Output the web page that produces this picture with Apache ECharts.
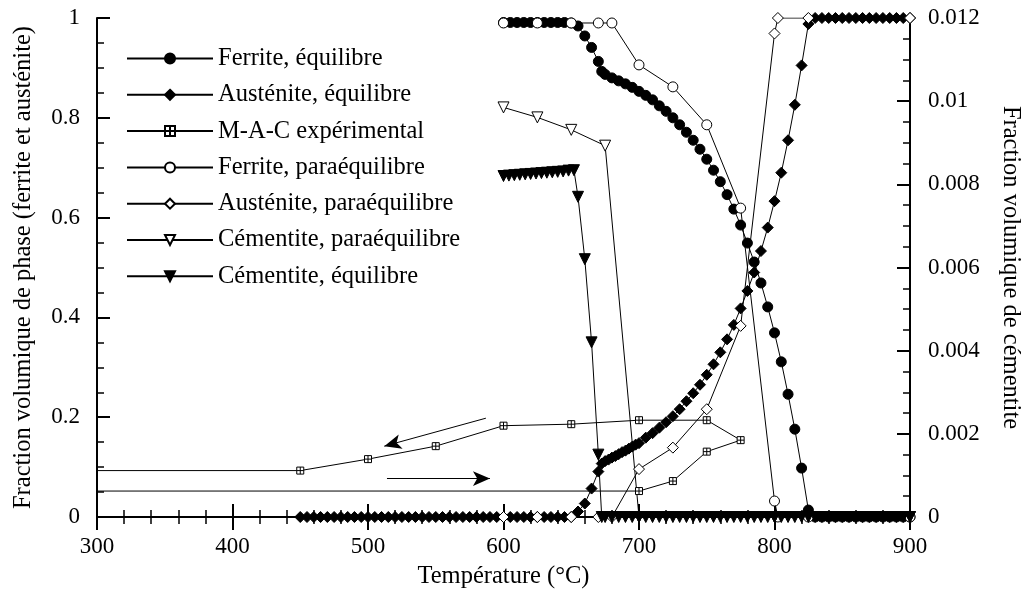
<!DOCTYPE html>
<html><head><meta charset="utf-8">
<script src="https://cdn.jsdelivr.net/npm/echarts@6/dist/echarts.min.js"></script>
<style>html,body{margin:0;padding:0;background:#fff}#c{width:1026px;height:589px}</style>
</head><body><div id="c"></div>
<script>
const FONT = 'Liberation Serif';

// ---- Data ----
const seriesNames = ['Ferrite, équilibre','Austénite, équilibre','M-A-C expérimental','Ferrite, paraéquilibre','Austénite, paraéquilibre','Cémentite, paraéquilibre','Cémentite, équilibre'];

const ferriteEqT = [600,605,610,615,620,625,630,635,640,645,650,655,660,665,670,672.5,675,680,685,690,695,700,705,710,715,720,725,730,735,740,745,750,755,760,765,770,775,780,785,790,795,800,805,810,815,820,825,830,835,840,845,850,855,860,865,870,875,880,885,890,895,900];
const ferriteEqV = [0.991,0.991,0.991,0.991,0.991,0.991,0.991,0.991,0.991,0.991,0.990,0.984,0.964,0.941,0.913,0.893,0.887,0.880,0.874,0.868,0.861,0.853,0.845,0.836,0.824,0.813,0.800,0.786,0.771,0.755,0.737,0.717,0.695,0.672,0.646,0.617,0.585,0.549,0.511,0.469,0.421,0.369,0.311,0.246,0.176,0.098,0.014,0,0,0,0,0,0,0,0,0,0,0,0,0,0,0];

const austEqT = [450,455,460,465,470,475,480,485,490,495,500,505,510,515,520,525,530,535,540,545,550,555,560,565,570,575,580,585,590,595,600,605,610,615,620,625,630,635,640,645,650,655,660,665,670,672.5,675,677.5,680,682.5,685,687.5,690,692.5,695,697.5,700,705,710,715,720,725,730,735,740,745,750,755,760,765,770,775,780,785,790,795,800,805,810,815,820,825,830,835,840,845,850,855,860,865,870,875,880,885,890,895,900];
const austEqV = [0,0,0,0,0,0,0,0,0,0,0,0,0,0,0,0,0,0,0,0,0,0,0,0,0,0,0,0,0,0,0,0,0,0,0,0,0,0,0,0,0,0.011,0.027,0.057,0.091,0.107,0.112,0.115,0.119,0.122,0.126,0.130,0.133,0.137,0.141,0.145,0.148,0.159,0.168,0.179,0.190,0.202,0.216,0.232,0.248,0.265,0.285,0.306,0.330,0.356,0.385,0.418,0.453,0.490,0.533,0.580,0.633,0.690,0.755,0.826,0.905,0.988,1,1,1,1,1,1,1,1,1,1,1,1,1,1,1];

const macT = [300,700,725,750,775,750,700,650,600,550,500,450,300];
const macV = [0.052,0.052,0.072,0.131,0.154,0.194,0.194,0.186,0.183,0.142,0.116,0.093,0.093];

const ferriteParaT = [600,625,650,670,680,700,725,750,775,800,802.5,825,900];
const ferriteParaV = [0.990,0.990,0.990,0.990,0.990,0.906,0.862,0.786,0.619,0.032,0,0,0];

const austParaT = [600,625,650,670,680,700,725,750,775,800,802.5,825,900];
const austParaV = [0,0,0,0,0,0.096,0.139,0.216,0.383,0.969,1,1,1];

const cemParaT = [600,625,650,675,700,800,900];
const cemParaV = [0.00985,0.00961,0.00931,0.00893,0,0,0];

const cemEqT = [600,604,608,612,616,620,624,628,632,636,640,644,648,652,655,660,665,670,672.5,675,680,685,690,695,700,705,710,715,720,725,730,735,740,745,750,755,760,765,770,775,780,785,790,795,800,805,810,815,820,825,830,835,840,845,850,855,860,865,870,875,880,885,890,895,900];
const cemEqV = [0.00820,0.00821,0.00822,0.00823,0.00824,0.00825,0.00826,0.00827,0.00828,0.00829,0.00830,0.00831,0.00833,0.00834,0.0077,0.0062,0.0042,0.0015,0,0,0,0,0,0,0,0,0,0,0,0,0,0,0,0,0,0,0,0,0,0,0,0,0,0,0,0,0,0,0,0,0,0,0,0,0,0,0,0,0,0,0,0,0,0,0];

// annotation arrows (cooling / heating direction), in data coordinates
const arrowCooling = [[587,0.198],[512,0.142]];
const arrowHeating = [[514,0.077],[590,0.077]];

// ---- Build ----
const zip = (t, v) => t.map((x, i) => [x, v[i]]);
const macData = zip(macT, macV).map((p, i, a) => (i === 0 || i === a.length - 1) ? {value: p, symbol: 'none'} : p);

const MAC_SYMBOL = 'path://M0,0H10V10H0Z M5,0V10 M0,5H10';
const base = {type: 'line', animation: false, lineStyle: {color: '#000', width: 1}, emphasis: {disabled: true}, silent: true, showAllSymbol: true};
const filled = {color: '#000', borderColor: '#000', borderWidth: 1};
const open = {color: '#fff', borderColor: '#000', borderWidth: 1};

const series = [
  Object.assign({}, base, {name: seriesNames[0], data: zip(ferriteEqT, ferriteEqV), symbol: 'circle', symbolSize: 10, itemStyle: filled}),
  Object.assign({}, base, {name: seriesNames[1], data: zip(austEqT, austEqV), symbol: 'diamond', symbolSize: 11, itemStyle: filled}),
  Object.assign({}, base, {name: seriesNames[2], data: macData, symbol: MAC_SYMBOL, symbolSize: 7, itemStyle: open,
    markLine: {silent: true, symbol: ['none', 'arrow'], symbolSize: [11, 17], label: {show: false},
      lineStyle: {color: '#000', width: 1, type: 'solid'},
      data: [[{coord: arrowCooling[0]}, {coord: arrowCooling[1]}], [{coord: arrowHeating[0]}, {coord: arrowHeating[1]}]]}}),
  Object.assign({}, base, {name: seriesNames[3], data: zip(ferriteParaT, ferriteParaV), symbol: 'circle', symbolSize: 10, itemStyle: open}),
  Object.assign({}, base, {name: seriesNames[4], data: zip(austParaT, austParaV), symbol: 'diamond', symbolSize: 11, itemStyle: open}),
  Object.assign({}, base, {name: seriesNames[5], data: zip(cemParaT, cemParaV), yAxisIndex: 1, symbol: 'triangle', symbolRotate: 180, symbolSize: 11, itemStyle: open}),
  Object.assign({}, base, {name: seriesNames[6], data: zip(cemEqT, cemEqV), yAxisIndex: 1, symbol: 'triangle', symbolRotate: 180, symbolSize: 11, itemStyle: filled})
];

const axLine = {lineStyle: {color: '#000', width: 2}};
const tick = {inside: true, length: 13, lineStyle: {color: '#000', width: 2}};
const txt = {color: '#000', fontFamily: FONT};

const option = {
  backgroundColor: '#fff',
  animation: false,
  grid: {left: 97, right: 116, top: 18, bottom: 72, containLabel: false, outerBoundsMode: 'none'},
  legend: {
    data: seriesNames, orient: 'vertical', left: 121, top: 41,
    itemWidth: 86, itemHeight: 12.5, itemGap: 11.3,
    textStyle: Object.assign({fontSize: 24.5}, txt),
    selectedMode: false
  },
  xAxis: [
    {type: 'value', min: 300, max: 900, interval: 100, position: 'bottom',
     axisLine: axLine, axisTick: tick,
     minorTick: {show: true, splitNumber: 5, length: 7, lineStyle: {color: '#000', width: 1.5}},
     splitLine: {show: false}, minorSplitLine: {show: false},
     axisLabel: Object.assign({fontSize: 23, margin: 18}, txt),
     name: 'Température (°C)', nameLocation: 'middle', nameGap: 47,
     nameTextStyle: Object.assign({fontSize: 24.5}, txt)},
    {type: 'value', min: 300, max: 900, interval: 100, position: 'top',
     axisLine: axLine, axisTick: tick,
     minorTick: {show: true, splitNumber: 5, length: 7, lineStyle: {color: '#000', width: 1.5}},
     splitLine: {show: false}, axisLabel: {show: false}}
  ],
  yAxis: [
    {type: 'value', min: 0, max: 1, interval: 0.2, position: 'left',
     axisLine: axLine, axisTick: tick,
     minorTick: {show: true, splitNumber: 4, length: 7, lineStyle: {color: '#000', width: 1.5}},
     splitLine: {show: false},
     axisLabel: Object.assign({fontSize: 23, margin: 17}, txt),
     name: 'Fraction volumique de phase (ferrite et austénite)', nameLocation: 'middle', nameGap: 61, nameRotate: 90,
     nameTextStyle: Object.assign({fontSize: 24.5}, txt)},
    {type: 'value', min: 0, max: 0.012, interval: 0.002, position: 'right',
     axisLine: axLine, axisTick: tick,
     minorTick: {show: true, splitNumber: 4, length: 7, lineStyle: {color: '#000', width: 1.5}},
     splitLine: {show: false},
     axisLabel: Object.assign({fontSize: 23, margin: 18}, txt),
     name: 'Fraction volumique de cémentite', nameLocation: 'middle', nameGap: 88, nameRotate: -90,
     nameTextStyle: Object.assign({fontSize: 24.5}, txt)}
  ],
  series: series
};

const chart = echarts.init(document.getElementById('c'), null, {renderer: 'canvas'});
chart.setOption(option);
</script>
</body></html>
